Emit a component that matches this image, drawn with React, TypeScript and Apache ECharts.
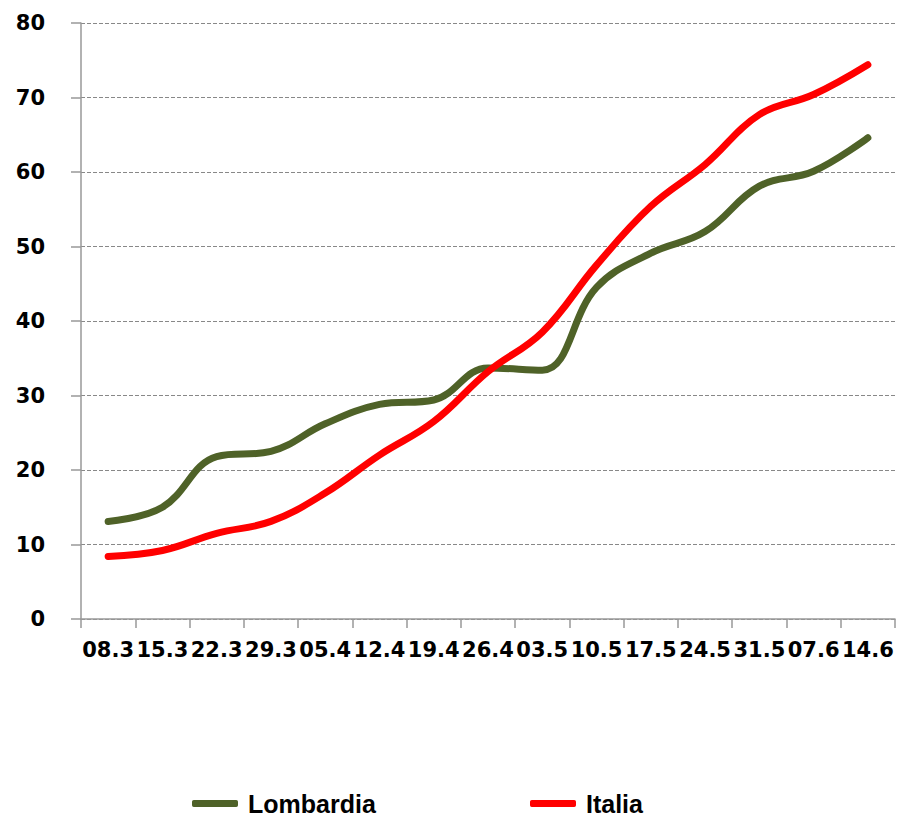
import React, { useEffect, useRef } from "react";
import * as echarts from "echarts";

const categories = ["08.3", "15.3", "22.3", "29.3", "05.4", "12.4", "19.4", "26.4", "03.5", "10.5", "17.5", "24.5", "31.5", "07.6", "14.6"];
const lombardia = [13.1, 15.0, 21.8, 22.5, 26.2, 28.8, 29.4, 33.7, 33.4, 44.5, 49.1, 52.0, 58.1, 60.1, 64.6];
const italia = [8.4, 9.2, 11.5, 13.1, 16.9, 22.0, 26.5, 33.2, 38.5, 47.5, 55.4, 61.0, 67.7, 70.4, 74.4];
const yMin = 0;
const yMax = 80;
const yStep = 10;

export default function App() {
  const ref = useRef<HTMLDivElement>(null);
  useEffect(() => {
    if (!ref.current) return;
    const chart = echarts.init(ref.current, null, { renderer: "svg" });
    const axisFont = { fontFamily: "DejaVu Sans", fontWeight: "bold", fontSize: 21, color: "#000" };
    const legendText = { fontFamily: "Liberation Sans", fontWeight: "bold", fontSize: 25, color: "#000", padding: [0, 0, 0, 5] };
    chart.setOption({
      animation: false,
      backgroundColor: "#fff",
      grid: { left: 81, right: 8, top: 23, bottom: 200, containLabel: false },
      legend: [
        { data: ["Lombardia"], left: 187, top: 786, itemWidth: 46, itemHeight: 7, icon: "roundRect", textStyle: legendText },
        { data: ["Italia"], left: 525, top: 786, itemWidth: 46, itemHeight: 7, icon: "roundRect", textStyle: legendText },
      ],
      xAxis: {
        type: "category",
        data: categories,
        boundaryGap: true,
        axisLine: { show: true, lineStyle: { color: "#999", width: 1.5 } },
        axisTick: { show: true, alignWithLabel: false, length: 9, lineStyle: { color: "#999", width: 1.5 } },
        axisLabel: { interval: 0, margin: 20, ...axisFont },
        splitLine: { show: false },
      },
      yAxis: {
        type: "value",
        min: yMin,
        max: yMax,
        interval: yStep,
        axisLine: { show: true, lineStyle: { color: "#999", width: 1.5 } },
        axisTick: { show: true, length: 10, lineStyle: { color: "#999", width: 1.5 } },
        axisLabel: { margin: 36, ...axisFont },
        splitLine: { show: true, lineStyle: { color: "#888", type: [4, 2], width: 1 } },
      },
      series: [
        {
          name: "Lombardia",
          type: "line",
          data: lombardia,
          smooth: 0.4,
          symbol: "none",
          lineStyle: { color: "#4F6228", width: 7, cap: "round" },
          itemStyle: { color: "#4F6228" },
        },
        {
          name: "Italia",
          type: "line",
          data: italia,
          smooth: 0.4,
          symbol: "none",
          lineStyle: { color: "#FF0000", width: 7, cap: "round" },
          itemStyle: { color: "#FF0000" },
        },
      ],
    });
    return () => chart.dispose();
  }, []);
  return <div ref={ref} style={{ position: "fixed", left: 0, top: 0, width: 903, height: 819 }} />;
}
